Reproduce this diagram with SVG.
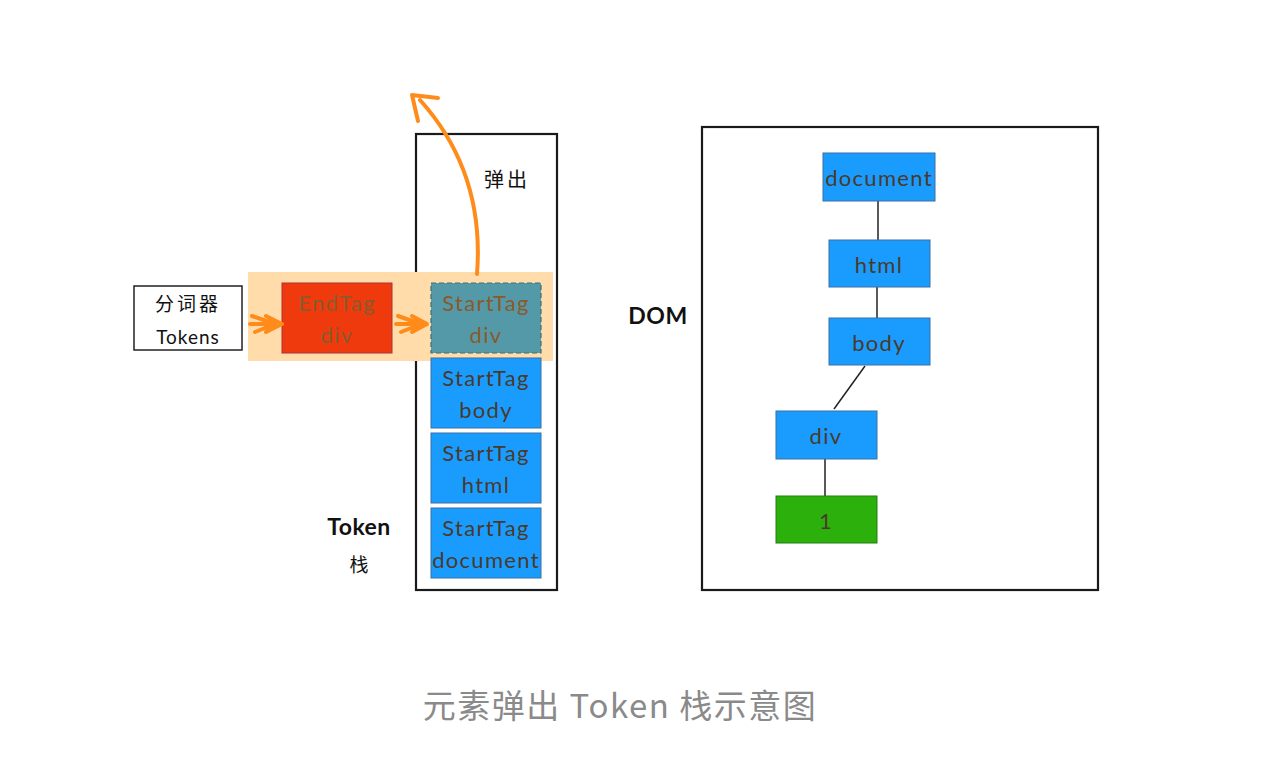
<svg xmlns="http://www.w3.org/2000/svg" width="1266" height="758" viewBox="0 0 1266 758">
<style>
.frame{fill:none;stroke:#1a1a1a;stroke-width:2.2}
.blue{fill:#1a9cff;stroke:#3a6ea5;stroke-width:1}
.lbl{font-family:"Lato","Noto Sans",sans-serif;font-size:22px;letter-spacing:1.3px;fill:#4a3a2c;text-anchor:middle}
.blk{font-family:"Lato","Noto Sans","Noto Sans CJK SC",sans-serif;fill:#111;text-anchor:middle}
.edge{stroke:#222;stroke-width:1.5;fill:none}
.org{stroke:#ff8c1a;stroke-width:4;fill:none;stroke-linecap:round;stroke-linejoin:round}
</style>
<rect width="1266" height="758" fill="#fff"/>
<g id="stack-frame"><rect class="frame" x="416" y="134" width="141" height="456"/></g>
<g id="highlight"><rect x="248" y="272" width="305" height="89" fill="#ffdcaa"/></g>
<g id="tokenizer">
<rect x="134" y="286" width="108" height="64" fill="#fff" stroke="#222" stroke-width="1.5"/>
<text class="blk" x="188" y="311" font-size="19" letter-spacing="3" font-family="Noto Sans CJK SC,sans-serif">分词器</text>
<text class="blk" x="188" y="344" font-size="19" letter-spacing="1">Tokens</text>
</g>
<g id="endtag-div">
<rect x="282" y="283" width="110" height="70" fill="#ef3a0e" stroke="#a33" stroke-width="1"/>
<text class="lbl" x="337" y="311" style="fill:#8a5a2b">EndTag</text>
<text class="lbl" x="337" y="343" style="fill:#8a5a2b">div</text>
</g>
<g id="starttag-div">
<rect x="431" y="283" width="110" height="70" fill="#5499a8" stroke="#3d6f78" stroke-width="1.2" stroke-dasharray="5 3"/>
<text class="lbl" x="486" y="311" style="fill:#8a5a2b">StartTag</text>
<text class="lbl" x="486" y="343" style="fill:#8a5a2b">div</text>
</g>
<g id="starttag-body">
<rect class="blue" x="431" y="358" width="110" height="70"/>
<text class="lbl" x="486" y="386">StartTag</text>
<text class="lbl" x="486" y="418">body</text>
</g>
<g id="starttag-html">
<rect class="blue" x="431" y="433" width="110" height="70"/>
<text class="lbl" x="486" y="461">StartTag</text>
<text class="lbl" x="486" y="493">html</text>
</g>
<g id="starttag-document">
<rect class="blue" x="431" y="508" width="110" height="70"/>
<text class="lbl" x="486" y="536">StartTag</text>
<text class="lbl" x="486" y="568">document</text>
</g>
<g id="labels">
<text class="blk" x="507" y="187" font-size="20" letter-spacing="3" font-family="Noto Sans CJK SC,sans-serif">弹出</text>
<text class="blk" x="359" y="535" font-size="23" font-weight="bold" letter-spacing="0.5">Token</text>
<text class="blk" x="359" y="572" font-size="19" font-family="Noto Sans CJK SC,sans-serif">栈</text>
<text class="blk" x="658" y="324" font-size="23" font-weight="bold" letter-spacing="0.5">DOM</text>
</g>
<g id="dom-frame"><rect class="frame" x="702" y="127" width="396" height="463"/></g>
<g id="connectors">
<line class="edge" x1="878" y1="201" x2="878" y2="240"/>
<line class="edge" x1="877" y1="287" x2="877" y2="318"/>
<line class="edge" x1="865" y1="366" x2="834" y2="409"/>
<line class="edge" x1="825" y1="459" x2="825" y2="496"/>
<path class="org" d="M252 316 L275 324 L255 332 M266 316 L282 324 L266 332 M250 324 L275 324"/>
<path class="org" d="M398 316 L421 324 L401 332 M412 316 L427 324 L412 332 M396 324 L421 324"/>
<path class="org" d="M477 274 C482 210 465 150 420 100"/>
<path class="org" d="M438 98 L412 95 L418 121"/>
</g>
<g id="dom-document"><rect class="blue" x="823" y="153" width="112" height="48"/><text class="lbl" x="879" y="186">document</text></g>
<g id="dom-html"><rect class="blue" x="829" y="240" width="101" height="47"/><text class="lbl" x="879" y="273">html</text></g>
<g id="dom-body"><rect class="blue" x="829" y="318" width="101" height="47"/><text class="lbl" x="879" y="351">body</text></g>
<g id="dom-div"><rect class="blue" x="776" y="411" width="101" height="48"/><text class="lbl" x="826" y="444">div</text></g>
<g id="dom-1"><rect x="776" y="496" width="101" height="47" fill="#2cb10c" stroke="#277a15" stroke-width="1"/><text class="lbl" x="826" y="529">1</text></g>
<g id="caption"><text x="620" y="718" text-anchor="middle" font-family="Noto Sans CJK SC,sans-serif" font-size="33" letter-spacing="1.5" fill="#8a8a8a">元素弹出 Token 栈示意图</text></g>
</svg>
